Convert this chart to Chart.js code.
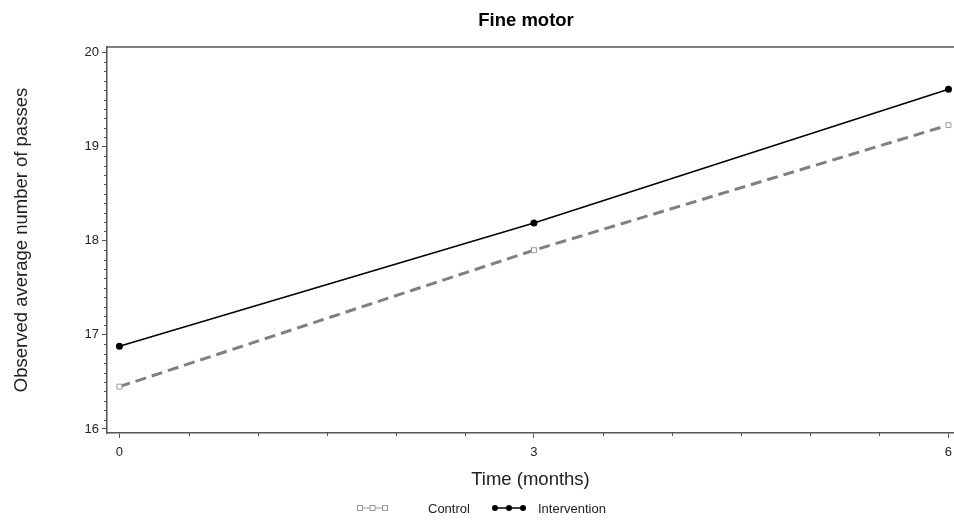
<!DOCTYPE html>
<html>
<head>
<meta charset="utf-8">
<script src="https://cdn.jsdelivr.net/npm/chart.js@4.4.0/dist/chart.umd.min.js"></script>
<style>
  html, body { margin: 0; padding: 0; background: #fff; overflow: hidden; }
  canvas { display: block; }
</style>
</head>
<body>
<canvas id="chart" width="954" height="522"></canvas>
<script>
// data
const months = [0, 3, 6];
const control = [16.45, 17.90, 19.23];
const intervention = [16.88, 18.19, 19.61];
const xTicks = [0, 3, 6];
const yTicks = [16, 17, 18, 19, 20];
const xMinorStep = 0.5;
const yMinorStep = 0.1;

const FONT = 'Arial, "Liberation Sans", Helvetica, sans-serif';
const AXIS = '#555';
const CONTROL_COLOR = '#808080';
const CONTROL_MARK = '#9a9a9a';

function drawSquare(ctx, x, y, s) {
  ctx.strokeRect(x - s / 2, y - s / 2, s, s);
}

// title, top frame line, minor ticks, legend
const extras = {
  id: 'extras',
  afterDraw(chart) {
    const { ctx, chartArea, scales } = chart;
    const xs = scales.x, ys = scales.y;
    ctx.save();

    // top frame
    ctx.strokeStyle = AXIS;
    ctx.lineWidth = 1.5;
    ctx.beginPath();
    ctx.moveTo(chartArea.left, chartArea.top);
    ctx.lineTo(chartArea.right, chartArea.top);
    ctx.stroke();

    // minor ticks
    ctx.lineWidth = 1;
    ctx.beginPath();
    for (let v = yTicks[0]; v < yTicks[yTicks.length - 1] - 1e-6; v += yMinorStep) {
      if (Math.abs(v - Math.round(v)) < 1e-6) continue;
      const py = Math.round(ys.getPixelForValue(v)) + 0.5;
      ctx.moveTo(chartArea.left - 3, py);
      ctx.lineTo(chartArea.left, py);
    }
    for (let v = xTicks[0]; v < xTicks[xTicks.length - 1] - 1e-6; v += xMinorStep) {
      if (xTicks.some(t => Math.abs(t - v) < 1e-6)) continue;
      const px = Math.round(xs.getPixelForValue(v)) + 0.5;
      ctx.moveTo(px, chartArea.bottom);
      ctx.lineTo(px, chartArea.bottom + 3);
    }
    ctx.stroke();

    // title
    ctx.fillStyle = '#000';
    ctx.font = 'bold 18.5px ' + FONT;
    ctx.textAlign = 'center';
    ctx.textBaseline = 'middle';
    ctx.fillText('Fine motor', 526, 21);

    // legend
    const ly = 508;
    ctx.font = '13px ' + FONT;
    ctx.textAlign = 'left';
    ctx.fillStyle = '#222';

    ctx.strokeStyle = CONTROL_MARK;
    ctx.lineWidth = 1;
    ctx.beginPath();
    ctx.moveTo(358, ly);
    ctx.lineTo(386, ly);
    ctx.stroke();
    ctx.fillStyle = '#fff';
    [360, 372.5, 385].forEach(x => {
      ctx.fillRect(x - 2.5, ly - 2.5, 5, 5);
      drawSquare(ctx, x, ly, 5);
    });
    ctx.fillStyle = '#222';
    ctx.fillText('Control', 428, ly + 1);

    ctx.strokeStyle = '#000';
    ctx.lineWidth = 1.5;
    ctx.beginPath();
    ctx.moveTo(495, ly);
    ctx.lineTo(523, ly);
    ctx.stroke();
    ctx.fillStyle = '#000';
    [495, 509, 523].forEach(x => {
      ctx.beginPath();
      ctx.arc(x, ly, 3, 0, Math.PI * 2);
      ctx.fill();
    });
    ctx.fillStyle = '#222';
    ctx.fillText('Intervention', 538, ly + 1);

    ctx.restore();
  }
};

new Chart(document.getElementById('chart'), {
  type: 'line',
  data: {
    datasets: [
      {
        label: 'Control',
        data: months.map((m, i) => ({ x: m, y: control[i] })),
        borderColor: CONTROL_COLOR,
        borderWidth: 3,
        borderDash: [11, 6],
        pointStyle: 'rect',
        pointRadius: 3.5,
        pointBorderWidth: 1,
        pointBorderColor: CONTROL_MARK,
        pointBackgroundColor: '#fff',
        tension: 0
      },
      {
        label: 'Intervention',
        data: months.map((m, i) => ({ x: m, y: intervention[i] })),
        borderColor: '#000',
        borderWidth: 1.5,
        pointStyle: 'circle',
        pointRadius: 3.5,
        pointBorderWidth: 0,
        pointBackgroundColor: '#000',
        tension: 0
      }
    ]
  },
  options: {
    responsive: false,
    animation: false,
    devicePixelRatio: 1,
    layout: { autoPadding: false, padding: { top: 47, right: 0, bottom: 0, left: 0 } },
    plugins: {
      legend: { display: false },
      title: { display: false },
      tooltip: { enabled: false }
    },
    scales: {
      x: {
        type: 'linear',
        min: -0.09,
        max: 6.04,
        afterBuildTicks: s => { s.ticks = xTicks.map(v => ({ value: v })); },
        afterFit: s => { s.height = 89; s.paddingLeft = 0; s.paddingRight = 0; },
        border: { display: true, color: AXIS, width: 1.5 },
        grid: { drawOnChartArea: false, drawTicks: true, tickLength: 5, tickColor: AXIS, tickWidth: 1 },
        ticks: { color: '#222', font: { family: FONT, size: 13 }, padding: 7, maxRotation: 0 },
        title: {
          display: true,
          text: 'Time (months)',
          color: '#222',
          font: { family: FONT, size: 18.5 },
          padding: { top: 0, bottom: 31 }
        }
      },
      y: {
        type: 'linear',
        min: 15.957,
        max: 20.06,
        afterBuildTicks: s => { s.ticks = yTicks.map(v => ({ value: v })); },
        afterFit: s => { s.width = 107; },
        border: { display: true, color: AXIS, width: 1.5 },
        grid: { drawOnChartArea: false, drawTicks: true, tickLength: 5, tickColor: AXIS, tickWidth: 1 },
        ticks: { color: '#222', font: { family: FONT, size: 13 }, padding: 3 },
        title: {
          display: true,
          text: 'Observed average number of passes',
          color: '#222',
          font: { family: FONT, size: 18.5 },
          padding: { top: 11, bottom: 0 }
        }
      }
    }
  },
  plugins: [extras]
});
</script>
</body>
</html>
